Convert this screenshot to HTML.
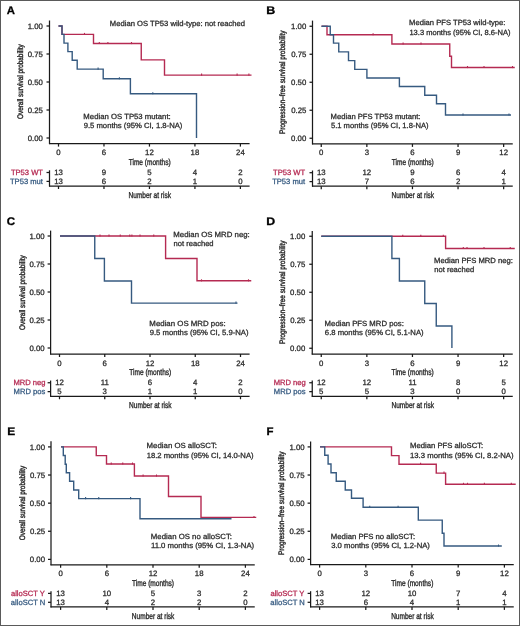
<!DOCTYPE html>
<html><head><meta charset="utf-8"><style>
html,body{margin:0;padding:0;background:#fff;}
body{width:520px;height:626px;overflow:hidden;position:relative;}
svg{position:absolute;left:0;top:0;font-family:"Liberation Sans", sans-serif;will-change:transform;text-rendering:geometricPrecision;}
text{stroke:currentColor;}
.frame{position:absolute;left:0;top:0;width:518px;height:624px;border:1px solid #5a5a5a;}
</style></head><body>
<svg width="520" height="626" viewBox="0 0 520 626">
<rect width="520" height="626" fill="#fff"/>
<text x="6.82" y="14.20" font-size="11" fill="#000" color="#000" stroke-width="0.28" font-weight="bold" textLength="8.19" lengthAdjust="spacingAndGlyphs">A</text>
<line x1="49.50" y1="20.50" x2="49.50" y2="144.10" stroke="#1a1a1a" stroke-width="1.25"/>
<line x1="46.50" y1="26.00" x2="49.50" y2="26.00" stroke="#1a1a1a" stroke-width="1.25"/>
<text x="42.88" y="28.60" font-size="7.8" fill="#2c2c2c" color="#2c2c2c" stroke-width="0.28" text-anchor="end">1.00</text>
<line x1="46.50" y1="54.00" x2="49.50" y2="54.00" stroke="#1a1a1a" stroke-width="1.25"/>
<text x="42.92" y="56.60" font-size="7.8" fill="#2c2c2c" color="#2c2c2c" stroke-width="0.28" text-anchor="end">0.75</text>
<line x1="46.50" y1="82.00" x2="49.50" y2="82.00" stroke="#1a1a1a" stroke-width="1.25"/>
<text x="42.88" y="84.60" font-size="7.8" fill="#2c2c2c" color="#2c2c2c" stroke-width="0.28" text-anchor="end">0.50</text>
<line x1="46.50" y1="110.00" x2="49.50" y2="110.00" stroke="#1a1a1a" stroke-width="1.25"/>
<text x="42.92" y="112.60" font-size="7.8" fill="#2c2c2c" color="#2c2c2c" stroke-width="0.28" text-anchor="end">0.25</text>
<line x1="46.50" y1="138.00" x2="49.50" y2="138.00" stroke="#1a1a1a" stroke-width="1.25"/>
<text x="42.88" y="140.60" font-size="7.8" fill="#2c2c2c" color="#2c2c2c" stroke-width="0.28" text-anchor="end">0.00</text>
<line x1="49.00" y1="143.60" x2="249.60" y2="143.60" stroke="#1a1a1a" stroke-width="1.25"/>
<line x1="58.50" y1="143.60" x2="58.50" y2="146.60" stroke="#1a1a1a" stroke-width="1.25"/>
<text x="58.50" y="155.10" font-size="7.8" fill="#2c2c2c" color="#2c2c2c" stroke-width="0.28" text-anchor="middle">0</text>
<line x1="103.97" y1="143.60" x2="103.97" y2="146.60" stroke="#1a1a1a" stroke-width="1.25"/>
<text x="103.97" y="155.10" font-size="7.8" fill="#2c2c2c" color="#2c2c2c" stroke-width="0.28" text-anchor="middle">6</text>
<line x1="149.45" y1="143.60" x2="149.45" y2="146.60" stroke="#1a1a1a" stroke-width="1.25"/>
<text x="149.45" y="155.10" font-size="7.8" fill="#2c2c2c" color="#2c2c2c" stroke-width="0.28" text-anchor="middle">12</text>
<line x1="194.93" y1="143.60" x2="194.93" y2="146.60" stroke="#1a1a1a" stroke-width="1.25"/>
<text x="194.93" y="155.10" font-size="7.8" fill="#2c2c2c" color="#2c2c2c" stroke-width="0.28" text-anchor="middle">18</text>
<line x1="240.40" y1="143.60" x2="240.40" y2="146.60" stroke="#1a1a1a" stroke-width="1.25"/>
<text x="240.40" y="155.10" font-size="7.8" fill="#2c2c2c" color="#2c2c2c" stroke-width="0.28" text-anchor="middle">24</text>
<text x="128.67" y="164.70" font-size="8.6" fill="#2c2c2c" color="#2c2c2c" stroke-width="0.36" textLength="42.05" lengthAdjust="spacingAndGlyphs">Time (months)</text>
<text transform="rotate(-90)" x="-118.99" y="22.90" font-size="8.0" fill="#2c2c2c" color="#2c2c2c" stroke-width="0.4" textLength="74.60" lengthAdjust="spacingAndGlyphs">Overall survival probability</text>
<line x1="49.50" y1="170.30" x2="49.50" y2="186.50" stroke="#1a1a1a" stroke-width="1.25"/>
<line x1="49.00" y1="186.00" x2="249.60" y2="186.00" stroke="#1a1a1a" stroke-width="1.25"/>
<line x1="46.50" y1="172.50" x2="49.50" y2="172.50" stroke="#1a1a1a" stroke-width="1.25"/>
<text x="42.97" y="174.80" font-size="7.6" fill="#b52a52" color="#b52a52" stroke-width="0.28" text-anchor="end">TP53 WT</text>
<text x="58.50" y="174.80" font-size="7.8" fill="#2c2c2c" color="#2c2c2c" stroke-width="0.28" text-anchor="middle">13</text>
<text x="103.97" y="174.80" font-size="7.8" fill="#2c2c2c" color="#2c2c2c" stroke-width="0.28" text-anchor="middle">9</text>
<text x="149.45" y="174.80" font-size="7.8" fill="#2c2c2c" color="#2c2c2c" stroke-width="0.28" text-anchor="middle">5</text>
<text x="194.93" y="174.80" font-size="7.8" fill="#2c2c2c" color="#2c2c2c" stroke-width="0.28" text-anchor="middle">4</text>
<text x="240.40" y="174.80" font-size="7.8" fill="#2c2c2c" color="#2c2c2c" stroke-width="0.28" text-anchor="middle">2</text>
<line x1="46.50" y1="181.40" x2="49.50" y2="181.40" stroke="#1a1a1a" stroke-width="1.25"/>
<text x="42.88" y="183.70" font-size="7.6" fill="#365a80" color="#365a80" stroke-width="0.28" text-anchor="end">TP53 mut</text>
<text x="58.50" y="183.70" font-size="7.8" fill="#2c2c2c" color="#2c2c2c" stroke-width="0.28" text-anchor="middle">13</text>
<text x="103.97" y="183.70" font-size="7.8" fill="#2c2c2c" color="#2c2c2c" stroke-width="0.28" text-anchor="middle">6</text>
<text x="149.45" y="183.70" font-size="7.8" fill="#2c2c2c" color="#2c2c2c" stroke-width="0.28" text-anchor="middle">2</text>
<text x="194.93" y="183.70" font-size="7.8" fill="#2c2c2c" color="#2c2c2c" stroke-width="0.28" text-anchor="middle">1</text>
<text x="240.40" y="183.70" font-size="7.8" fill="#2c2c2c" color="#2c2c2c" stroke-width="0.28" text-anchor="middle">0</text>
<line x1="58.50" y1="186.00" x2="58.50" y2="189.00" stroke="#1a1a1a" stroke-width="1.25"/>
<line x1="103.97" y1="186.00" x2="103.97" y2="189.00" stroke="#1a1a1a" stroke-width="1.25"/>
<line x1="149.45" y1="186.00" x2="149.45" y2="189.00" stroke="#1a1a1a" stroke-width="1.25"/>
<line x1="194.93" y1="186.00" x2="194.93" y2="189.00" stroke="#1a1a1a" stroke-width="1.25"/>
<line x1="240.40" y1="186.00" x2="240.40" y2="189.00" stroke="#1a1a1a" stroke-width="1.25"/>
<text x="128.53" y="197.80" font-size="8.6" fill="#2c2c2c" color="#2c2c2c" stroke-width="0.36" textLength="42.53" lengthAdjust="spacingAndGlyphs">Number at risk</text>
<text x="109.89" y="25.60" font-size="7.5" fill="#2c2c2c" color="#2c2c2c" stroke-width="0.28" textLength="135.20" lengthAdjust="spacingAndGlyphs">Median OS TP53 wild-type: not reached</text>
<text x="83.38" y="118.80" font-size="7.5" fill="#2c2c2c" color="#2c2c2c" stroke-width="0.28" textLength="87.32" lengthAdjust="spacingAndGlyphs">Median OS TP53 mutant:</text>
<text x="83.65" y="128.20" font-size="7.5" fill="#2c2c2c" color="#2c2c2c" stroke-width="0.28" textLength="98.74" lengthAdjust="spacingAndGlyphs">9.5 months (95% CI, 1.8-NA)</text>
<path d="M58.50,26.00 H62.00 V34.40 H93.50 V43.50 H141.25 V59.90 H164.50 V75.10 H251.50" fill="none" stroke="#b52a52" stroke-width="1.4" stroke-linejoin="miter" stroke-linecap="butt"/>
<path d="M58.50,26.00 H62.00 V34.40 H64.00 V43.10 H67.90 V51.60 H72.20 V60.30 H77.20 V69.10 H103.20 V78.70 H130.40 V93.70 H196.50 V138.00" fill="none" stroke="#365a80" stroke-width="1.4" stroke-linejoin="miter" stroke-linecap="butt"/>
<line x1="84.50" y1="32.90" x2="84.50" y2="35.00" stroke="#b52a52" stroke-width="1.1"/>
<line x1="99.30" y1="42.00" x2="99.30" y2="44.10" stroke="#b52a52" stroke-width="1.1"/>
<line x1="107.90" y1="42.00" x2="107.90" y2="44.10" stroke="#b52a52" stroke-width="1.1"/>
<line x1="131.50" y1="42.00" x2="131.50" y2="44.10" stroke="#b52a52" stroke-width="1.1"/>
<line x1="201.60" y1="73.60" x2="201.60" y2="75.70" stroke="#b52a52" stroke-width="1.1"/>
<line x1="237.10" y1="73.60" x2="237.10" y2="75.70" stroke="#b52a52" stroke-width="1.1"/>
<line x1="248.90" y1="73.60" x2="248.90" y2="75.70" stroke="#b52a52" stroke-width="1.1"/>
<line x1="98.10" y1="67.60" x2="98.10" y2="69.70" stroke="#365a80" stroke-width="1.1"/>
<line x1="119.40" y1="77.20" x2="119.40" y2="79.30" stroke="#365a80" stroke-width="1.1"/>
<line x1="152.80" y1="92.20" x2="152.80" y2="94.30" stroke="#365a80" stroke-width="1.1"/>
<text x="266.19" y="14.20" font-size="11" fill="#000" color="#000" stroke-width="0.28" font-weight="bold" textLength="9.00" lengthAdjust="spacingAndGlyphs">B</text>
<line x1="312.50" y1="20.60" x2="312.50" y2="144.40" stroke="#1a1a1a" stroke-width="1.25"/>
<line x1="309.50" y1="26.25" x2="312.50" y2="26.25" stroke="#1a1a1a" stroke-width="1.25"/>
<text x="306.28" y="28.85" font-size="7.8" fill="#2c2c2c" color="#2c2c2c" stroke-width="0.28" text-anchor="end">1.00</text>
<line x1="309.50" y1="54.25" x2="312.50" y2="54.25" stroke="#1a1a1a" stroke-width="1.25"/>
<text x="306.32" y="56.85" font-size="7.8" fill="#2c2c2c" color="#2c2c2c" stroke-width="0.28" text-anchor="end">0.75</text>
<line x1="309.50" y1="82.25" x2="312.50" y2="82.25" stroke="#1a1a1a" stroke-width="1.25"/>
<text x="306.28" y="84.85" font-size="7.8" fill="#2c2c2c" color="#2c2c2c" stroke-width="0.28" text-anchor="end">0.50</text>
<line x1="309.50" y1="110.25" x2="312.50" y2="110.25" stroke="#1a1a1a" stroke-width="1.25"/>
<text x="306.32" y="112.85" font-size="7.8" fill="#2c2c2c" color="#2c2c2c" stroke-width="0.28" text-anchor="end">0.25</text>
<line x1="309.50" y1="138.25" x2="312.50" y2="138.25" stroke="#1a1a1a" stroke-width="1.25"/>
<text x="306.28" y="140.85" font-size="7.8" fill="#2c2c2c" color="#2c2c2c" stroke-width="0.28" text-anchor="end">0.00</text>
<line x1="312.00" y1="143.90" x2="512.75" y2="143.90" stroke="#1a1a1a" stroke-width="1.25"/>
<line x1="321.25" y1="143.90" x2="321.25" y2="146.90" stroke="#1a1a1a" stroke-width="1.25"/>
<text x="321.25" y="155.40" font-size="7.8" fill="#2c2c2c" color="#2c2c2c" stroke-width="0.28" text-anchor="middle">0</text>
<line x1="366.85" y1="143.90" x2="366.85" y2="146.90" stroke="#1a1a1a" stroke-width="1.25"/>
<text x="366.85" y="155.40" font-size="7.8" fill="#2c2c2c" color="#2c2c2c" stroke-width="0.28" text-anchor="middle">3</text>
<line x1="412.45" y1="143.90" x2="412.45" y2="146.90" stroke="#1a1a1a" stroke-width="1.25"/>
<text x="412.45" y="155.40" font-size="7.8" fill="#2c2c2c" color="#2c2c2c" stroke-width="0.28" text-anchor="middle">6</text>
<line x1="458.05" y1="143.90" x2="458.05" y2="146.90" stroke="#1a1a1a" stroke-width="1.25"/>
<text x="458.05" y="155.40" font-size="7.8" fill="#2c2c2c" color="#2c2c2c" stroke-width="0.28" text-anchor="middle">9</text>
<line x1="503.65" y1="143.90" x2="503.65" y2="146.90" stroke="#1a1a1a" stroke-width="1.25"/>
<text x="503.65" y="155.40" font-size="7.8" fill="#2c2c2c" color="#2c2c2c" stroke-width="0.28" text-anchor="middle">12</text>
<text x="391.74" y="165.00" font-size="8.6" fill="#2c2c2c" color="#2c2c2c" stroke-width="0.36" textLength="42.05" lengthAdjust="spacingAndGlyphs">Time (months)</text>
<text transform="rotate(-90)" x="-134.01" y="285.00" font-size="8.0" fill="#2c2c2c" color="#2c2c2c" stroke-width="0.4" textLength="103.41" lengthAdjust="spacingAndGlyphs">Progression–free survival probability</text>
<line x1="312.50" y1="170.50" x2="312.50" y2="186.70" stroke="#1a1a1a" stroke-width="1.25"/>
<line x1="312.00" y1="186.20" x2="512.75" y2="186.20" stroke="#1a1a1a" stroke-width="1.25"/>
<line x1="309.50" y1="172.70" x2="312.50" y2="172.70" stroke="#1a1a1a" stroke-width="1.25"/>
<text x="305.17" y="175.00" font-size="7.6" fill="#b52a52" color="#b52a52" stroke-width="0.28" text-anchor="end">TP53 WT</text>
<text x="321.25" y="175.00" font-size="7.8" fill="#2c2c2c" color="#2c2c2c" stroke-width="0.28" text-anchor="middle">13</text>
<text x="366.85" y="175.00" font-size="7.8" fill="#2c2c2c" color="#2c2c2c" stroke-width="0.28" text-anchor="middle">12</text>
<text x="412.45" y="175.00" font-size="7.8" fill="#2c2c2c" color="#2c2c2c" stroke-width="0.28" text-anchor="middle">9</text>
<text x="458.05" y="175.00" font-size="7.8" fill="#2c2c2c" color="#2c2c2c" stroke-width="0.28" text-anchor="middle">6</text>
<text x="503.65" y="175.00" font-size="7.8" fill="#2c2c2c" color="#2c2c2c" stroke-width="0.28" text-anchor="middle">4</text>
<line x1="309.50" y1="181.60" x2="312.50" y2="181.60" stroke="#1a1a1a" stroke-width="1.25"/>
<text x="305.08" y="183.90" font-size="7.6" fill="#365a80" color="#365a80" stroke-width="0.28" text-anchor="end">TP53 mut</text>
<text x="321.25" y="183.90" font-size="7.8" fill="#2c2c2c" color="#2c2c2c" stroke-width="0.28" text-anchor="middle">13</text>
<text x="366.85" y="183.90" font-size="7.8" fill="#2c2c2c" color="#2c2c2c" stroke-width="0.28" text-anchor="middle">7</text>
<text x="412.45" y="183.90" font-size="7.8" fill="#2c2c2c" color="#2c2c2c" stroke-width="0.28" text-anchor="middle">6</text>
<text x="458.05" y="183.90" font-size="7.8" fill="#2c2c2c" color="#2c2c2c" stroke-width="0.28" text-anchor="middle">2</text>
<text x="503.65" y="183.90" font-size="7.8" fill="#2c2c2c" color="#2c2c2c" stroke-width="0.28" text-anchor="middle">1</text>
<line x1="321.25" y1="186.20" x2="321.25" y2="189.20" stroke="#1a1a1a" stroke-width="1.25"/>
<line x1="366.85" y1="186.20" x2="366.85" y2="189.20" stroke="#1a1a1a" stroke-width="1.25"/>
<line x1="412.45" y1="186.20" x2="412.45" y2="189.20" stroke="#1a1a1a" stroke-width="1.25"/>
<line x1="458.05" y1="186.20" x2="458.05" y2="189.20" stroke="#1a1a1a" stroke-width="1.25"/>
<line x1="503.65" y1="186.20" x2="503.65" y2="189.20" stroke="#1a1a1a" stroke-width="1.25"/>
<text x="391.60" y="198.00" font-size="8.6" fill="#2c2c2c" color="#2c2c2c" stroke-width="0.36" textLength="42.53" lengthAdjust="spacingAndGlyphs">Number at risk</text>
<text x="409.14" y="25.30" font-size="7.5" fill="#2c2c2c" color="#2c2c2c" stroke-width="0.28" textLength="96.33" lengthAdjust="spacingAndGlyphs">Median PFS TP53 wild-type:</text>
<text x="409.43" y="35.10" font-size="7.5" fill="#2c2c2c" color="#2c2c2c" stroke-width="0.28" textLength="101.05" lengthAdjust="spacingAndGlyphs">13.3 months (95% CI, 8.6-NA)</text>
<text x="330.64" y="118.80" font-size="7.5" fill="#2c2c2c" color="#2c2c2c" stroke-width="0.28" textLength="89.80" lengthAdjust="spacingAndGlyphs">Median PFS TP53 mutant:</text>
<text x="330.95" y="128.20" font-size="7.5" fill="#2c2c2c" color="#2c2c2c" stroke-width="0.28" textLength="97.64" lengthAdjust="spacingAndGlyphs">5.1 months (95% CI, 1.8-NA)</text>
<path d="M321.50,26.25 H327.00 V34.75 H391.90 V44.00 H449.75 V56.25 H451.50 V67.50 H514.75" fill="none" stroke="#b52a52" stroke-width="1.4" stroke-linejoin="miter" stroke-linecap="butt"/>
<path d="M321.50,26.25 H330.25 V34.75 H333.50 V43.10 H338.75 V51.90 H348.50 V60.60 H354.75 V69.40 H366.90 V78.00 H399.40 V86.50 H424.75 V95.25 H436.50 V103.75 H445.50 V115.00 H511.00" fill="none" stroke="#365a80" stroke-width="1.4" stroke-linejoin="miter" stroke-linecap="butt"/>
<line x1="373.10" y1="33.25" x2="373.10" y2="35.35" stroke="#b52a52" stroke-width="1.1"/>
<line x1="403.10" y1="42.50" x2="403.10" y2="44.60" stroke="#b52a52" stroke-width="1.1"/>
<line x1="421.00" y1="42.50" x2="421.00" y2="44.60" stroke="#b52a52" stroke-width="1.1"/>
<line x1="467.50" y1="66.00" x2="467.50" y2="68.10" stroke="#b52a52" stroke-width="1.1"/>
<line x1="484.00" y1="66.00" x2="484.00" y2="68.10" stroke="#b52a52" stroke-width="1.1"/>
<line x1="512.50" y1="66.00" x2="512.50" y2="68.10" stroke="#b52a52" stroke-width="1.1"/>
<line x1="463.00" y1="113.50" x2="463.00" y2="115.60" stroke="#365a80" stroke-width="1.1"/>
<line x1="509.00" y1="113.50" x2="509.00" y2="115.60" stroke="#365a80" stroke-width="1.1"/>
<text x="6.79" y="224.60" font-size="11" fill="#000" color="#000" stroke-width="0.28" font-weight="bold" textLength="8.38" lengthAdjust="spacingAndGlyphs">C</text>
<line x1="50.60" y1="230.60" x2="50.60" y2="354.50" stroke="#1a1a1a" stroke-width="1.25"/>
<line x1="47.60" y1="236.00" x2="50.60" y2="236.00" stroke="#1a1a1a" stroke-width="1.25"/>
<text x="44.68" y="238.60" font-size="7.8" fill="#2c2c2c" color="#2c2c2c" stroke-width="0.28" text-anchor="end">1.00</text>
<line x1="47.60" y1="264.00" x2="50.60" y2="264.00" stroke="#1a1a1a" stroke-width="1.25"/>
<text x="44.72" y="266.60" font-size="7.8" fill="#2c2c2c" color="#2c2c2c" stroke-width="0.28" text-anchor="end">0.75</text>
<line x1="47.60" y1="292.00" x2="50.60" y2="292.00" stroke="#1a1a1a" stroke-width="1.25"/>
<text x="44.68" y="294.60" font-size="7.8" fill="#2c2c2c" color="#2c2c2c" stroke-width="0.28" text-anchor="end">0.50</text>
<line x1="47.60" y1="320.00" x2="50.60" y2="320.00" stroke="#1a1a1a" stroke-width="1.25"/>
<text x="44.72" y="322.60" font-size="7.8" fill="#2c2c2c" color="#2c2c2c" stroke-width="0.28" text-anchor="end">0.25</text>
<line x1="47.60" y1="348.00" x2="50.60" y2="348.00" stroke="#1a1a1a" stroke-width="1.25"/>
<text x="44.68" y="350.60" font-size="7.8" fill="#2c2c2c" color="#2c2c2c" stroke-width="0.28" text-anchor="end">0.00</text>
<line x1="50.10" y1="354.00" x2="249.60" y2="354.00" stroke="#1a1a1a" stroke-width="1.25"/>
<line x1="59.50" y1="354.00" x2="59.50" y2="357.00" stroke="#1a1a1a" stroke-width="1.25"/>
<text x="59.50" y="365.50" font-size="7.8" fill="#2c2c2c" color="#2c2c2c" stroke-width="0.28" text-anchor="middle">0</text>
<line x1="104.75" y1="354.00" x2="104.75" y2="357.00" stroke="#1a1a1a" stroke-width="1.25"/>
<text x="104.75" y="365.50" font-size="7.8" fill="#2c2c2c" color="#2c2c2c" stroke-width="0.28" text-anchor="middle">6</text>
<line x1="150.00" y1="354.00" x2="150.00" y2="357.00" stroke="#1a1a1a" stroke-width="1.25"/>
<text x="150.00" y="365.50" font-size="7.8" fill="#2c2c2c" color="#2c2c2c" stroke-width="0.28" text-anchor="middle">12</text>
<line x1="195.25" y1="354.00" x2="195.25" y2="357.00" stroke="#1a1a1a" stroke-width="1.25"/>
<text x="195.25" y="365.50" font-size="7.8" fill="#2c2c2c" color="#2c2c2c" stroke-width="0.28" text-anchor="middle">18</text>
<line x1="240.50" y1="354.00" x2="240.50" y2="357.00" stroke="#1a1a1a" stroke-width="1.25"/>
<text x="240.50" y="365.50" font-size="7.8" fill="#2c2c2c" color="#2c2c2c" stroke-width="0.28" text-anchor="middle">24</text>
<text x="129.22" y="375.10" font-size="8.6" fill="#2c2c2c" color="#2c2c2c" stroke-width="0.36" textLength="42.05" lengthAdjust="spacingAndGlyphs">Time (months)</text>
<text transform="rotate(-90)" x="-330.04" y="24.80" font-size="8.0" fill="#2c2c2c" color="#2c2c2c" stroke-width="0.4" textLength="74.65" lengthAdjust="spacingAndGlyphs">Overall survival probability</text>
<line x1="50.60" y1="380.55" x2="50.60" y2="396.75" stroke="#1a1a1a" stroke-width="1.25"/>
<line x1="50.10" y1="396.25" x2="249.60" y2="396.25" stroke="#1a1a1a" stroke-width="1.25"/>
<line x1="47.60" y1="382.75" x2="50.60" y2="382.75" stroke="#1a1a1a" stroke-width="1.25"/>
<text x="45.48" y="385.05" font-size="7.6" fill="#b52a52" color="#b52a52" stroke-width="0.28" text-anchor="end">MRD neg</text>
<text x="59.50" y="385.05" font-size="7.8" fill="#2c2c2c" color="#2c2c2c" stroke-width="0.28" text-anchor="middle">12</text>
<text x="104.75" y="385.05" font-size="7.8" fill="#2c2c2c" color="#2c2c2c" stroke-width="0.28" text-anchor="middle">11</text>
<text x="150.00" y="385.05" font-size="7.8" fill="#2c2c2c" color="#2c2c2c" stroke-width="0.28" text-anchor="middle">6</text>
<text x="195.25" y="385.05" font-size="7.8" fill="#2c2c2c" color="#2c2c2c" stroke-width="0.28" text-anchor="middle">4</text>
<text x="240.50" y="385.05" font-size="7.8" fill="#2c2c2c" color="#2c2c2c" stroke-width="0.28" text-anchor="middle">2</text>
<line x1="47.60" y1="391.65" x2="50.60" y2="391.65" stroke="#1a1a1a" stroke-width="1.25"/>
<text x="45.25" y="393.95" font-size="7.6" fill="#365a80" color="#365a80" stroke-width="0.28" text-anchor="end">MRD pos</text>
<text x="59.50" y="393.95" font-size="7.8" fill="#2c2c2c" color="#2c2c2c" stroke-width="0.28" text-anchor="middle">5</text>
<text x="104.75" y="393.95" font-size="7.8" fill="#2c2c2c" color="#2c2c2c" stroke-width="0.28" text-anchor="middle">3</text>
<text x="150.00" y="393.95" font-size="7.8" fill="#2c2c2c" color="#2c2c2c" stroke-width="0.28" text-anchor="middle">1</text>
<text x="195.25" y="393.95" font-size="7.8" fill="#2c2c2c" color="#2c2c2c" stroke-width="0.28" text-anchor="middle">1</text>
<text x="240.50" y="393.95" font-size="7.8" fill="#2c2c2c" color="#2c2c2c" stroke-width="0.28" text-anchor="middle">0</text>
<line x1="59.50" y1="396.25" x2="59.50" y2="399.25" stroke="#1a1a1a" stroke-width="1.25"/>
<line x1="104.75" y1="396.25" x2="104.75" y2="399.25" stroke="#1a1a1a" stroke-width="1.25"/>
<line x1="150.00" y1="396.25" x2="150.00" y2="399.25" stroke="#1a1a1a" stroke-width="1.25"/>
<line x1="195.25" y1="396.25" x2="195.25" y2="399.25" stroke="#1a1a1a" stroke-width="1.25"/>
<line x1="240.50" y1="396.25" x2="240.50" y2="399.25" stroke="#1a1a1a" stroke-width="1.25"/>
<text x="129.08" y="408.05" font-size="8.6" fill="#2c2c2c" color="#2c2c2c" stroke-width="0.36" textLength="42.53" lengthAdjust="spacingAndGlyphs">Number at risk</text>
<text x="173.37" y="237.20" font-size="7.5" fill="#2c2c2c" color="#2c2c2c" stroke-width="0.28" textLength="76.44" lengthAdjust="spacingAndGlyphs">Median OS MRD neg:</text>
<text x="173.51" y="245.90" font-size="7.5" fill="#2c2c2c" color="#2c2c2c" stroke-width="0.28" textLength="40.10" lengthAdjust="spacingAndGlyphs">not reached</text>
<text x="149.37" y="326.30" font-size="7.5" fill="#2c2c2c" color="#2c2c2c" stroke-width="0.28" textLength="76.34" lengthAdjust="spacingAndGlyphs">Median OS MRD pos:</text>
<text x="149.65" y="335.30" font-size="7.5" fill="#2c2c2c" color="#2c2c2c" stroke-width="0.28" textLength="98.94" lengthAdjust="spacingAndGlyphs">9.5 months (95% CI, 5.9-NA)</text>
<path d="M60.00,236.00 H165.60 V258.50 H197.00 V280.80 H251.25" fill="none" stroke="#b52a52" stroke-width="1.4" stroke-linejoin="miter" stroke-linecap="butt"/>
<path d="M60.00,236.00 H94.75 V258.50 H104.40 V281.00 H131.50 V303.10 H237.50" fill="none" stroke="#365a80" stroke-width="1.4" stroke-linejoin="miter" stroke-linecap="butt"/>
<line x1="100.00" y1="234.50" x2="100.00" y2="236.60" stroke="#b52a52" stroke-width="1.1"/>
<line x1="109.00" y1="234.50" x2="109.00" y2="236.60" stroke="#b52a52" stroke-width="1.1"/>
<line x1="120.25" y1="234.50" x2="120.25" y2="236.60" stroke="#b52a52" stroke-width="1.1"/>
<line x1="129.75" y1="234.50" x2="129.75" y2="236.60" stroke="#b52a52" stroke-width="1.1"/>
<line x1="131.90" y1="234.50" x2="131.90" y2="236.60" stroke="#b52a52" stroke-width="1.1"/>
<line x1="140.00" y1="234.50" x2="140.00" y2="236.60" stroke="#b52a52" stroke-width="1.1"/>
<line x1="153.75" y1="234.50" x2="153.75" y2="236.60" stroke="#b52a52" stroke-width="1.1"/>
<line x1="201.50" y1="279.30" x2="201.50" y2="281.40" stroke="#b52a52" stroke-width="1.1"/>
<line x1="248.50" y1="279.30" x2="248.50" y2="281.40" stroke="#b52a52" stroke-width="1.1"/>
<line x1="236.00" y1="301.60" x2="236.00" y2="303.70" stroke="#365a80" stroke-width="1.1"/>
<text x="266.20" y="224.60" font-size="11" fill="#000" color="#000" stroke-width="0.28" font-weight="bold" textLength="8.92" lengthAdjust="spacingAndGlyphs">D</text>
<line x1="312.25" y1="231.00" x2="312.25" y2="354.50" stroke="#1a1a1a" stroke-width="1.25"/>
<line x1="309.25" y1="236.25" x2="312.25" y2="236.25" stroke="#1a1a1a" stroke-width="1.25"/>
<text x="305.28" y="238.85" font-size="7.8" fill="#2c2c2c" color="#2c2c2c" stroke-width="0.28" text-anchor="end">1.00</text>
<line x1="309.25" y1="264.25" x2="312.25" y2="264.25" stroke="#1a1a1a" stroke-width="1.25"/>
<text x="305.32" y="266.85" font-size="7.8" fill="#2c2c2c" color="#2c2c2c" stroke-width="0.28" text-anchor="end">0.75</text>
<line x1="309.25" y1="292.25" x2="312.25" y2="292.25" stroke="#1a1a1a" stroke-width="1.25"/>
<text x="305.28" y="294.85" font-size="7.8" fill="#2c2c2c" color="#2c2c2c" stroke-width="0.28" text-anchor="end">0.50</text>
<line x1="309.25" y1="320.25" x2="312.25" y2="320.25" stroke="#1a1a1a" stroke-width="1.25"/>
<text x="305.32" y="322.85" font-size="7.8" fill="#2c2c2c" color="#2c2c2c" stroke-width="0.28" text-anchor="end">0.25</text>
<line x1="309.25" y1="348.25" x2="312.25" y2="348.25" stroke="#1a1a1a" stroke-width="1.25"/>
<text x="305.28" y="350.85" font-size="7.8" fill="#2c2c2c" color="#2c2c2c" stroke-width="0.28" text-anchor="end">0.00</text>
<line x1="311.75" y1="354.00" x2="512.75" y2="354.00" stroke="#1a1a1a" stroke-width="1.25"/>
<line x1="321.25" y1="354.00" x2="321.25" y2="357.00" stroke="#1a1a1a" stroke-width="1.25"/>
<text x="321.25" y="365.50" font-size="7.8" fill="#2c2c2c" color="#2c2c2c" stroke-width="0.28" text-anchor="middle">0</text>
<line x1="366.85" y1="354.00" x2="366.85" y2="357.00" stroke="#1a1a1a" stroke-width="1.25"/>
<text x="366.85" y="365.50" font-size="7.8" fill="#2c2c2c" color="#2c2c2c" stroke-width="0.28" text-anchor="middle">3</text>
<line x1="412.45" y1="354.00" x2="412.45" y2="357.00" stroke="#1a1a1a" stroke-width="1.25"/>
<text x="412.45" y="365.50" font-size="7.8" fill="#2c2c2c" color="#2c2c2c" stroke-width="0.28" text-anchor="middle">6</text>
<line x1="458.05" y1="354.00" x2="458.05" y2="357.00" stroke="#1a1a1a" stroke-width="1.25"/>
<text x="458.05" y="365.50" font-size="7.8" fill="#2c2c2c" color="#2c2c2c" stroke-width="0.28" text-anchor="middle">9</text>
<line x1="503.65" y1="354.00" x2="503.65" y2="357.00" stroke="#1a1a1a" stroke-width="1.25"/>
<text x="503.65" y="365.50" font-size="7.8" fill="#2c2c2c" color="#2c2c2c" stroke-width="0.28" text-anchor="middle">12</text>
<text x="391.62" y="375.10" font-size="8.6" fill="#2c2c2c" color="#2c2c2c" stroke-width="0.36" textLength="42.05" lengthAdjust="spacingAndGlyphs">Time (months)</text>
<text transform="rotate(-90)" x="-344.01" y="285.00" font-size="8.0" fill="#2c2c2c" color="#2c2c2c" stroke-width="0.4" textLength="103.41" lengthAdjust="spacingAndGlyphs">Progression–free survival probability</text>
<line x1="312.25" y1="380.55" x2="312.25" y2="396.75" stroke="#1a1a1a" stroke-width="1.25"/>
<line x1="311.75" y1="396.25" x2="512.75" y2="396.25" stroke="#1a1a1a" stroke-width="1.25"/>
<line x1="309.25" y1="382.75" x2="312.25" y2="382.75" stroke="#1a1a1a" stroke-width="1.25"/>
<text x="305.73" y="385.05" font-size="7.6" fill="#b52a52" color="#b52a52" stroke-width="0.28" text-anchor="end">MRD neg</text>
<text x="321.25" y="385.05" font-size="7.8" fill="#2c2c2c" color="#2c2c2c" stroke-width="0.28" text-anchor="middle">12</text>
<text x="366.85" y="385.05" font-size="7.8" fill="#2c2c2c" color="#2c2c2c" stroke-width="0.28" text-anchor="middle">12</text>
<text x="412.45" y="385.05" font-size="7.8" fill="#2c2c2c" color="#2c2c2c" stroke-width="0.28" text-anchor="middle">11</text>
<text x="458.05" y="385.05" font-size="7.8" fill="#2c2c2c" color="#2c2c2c" stroke-width="0.28" text-anchor="middle">8</text>
<text x="503.65" y="385.05" font-size="7.8" fill="#2c2c2c" color="#2c2c2c" stroke-width="0.28" text-anchor="middle">5</text>
<line x1="309.25" y1="391.65" x2="312.25" y2="391.65" stroke="#1a1a1a" stroke-width="1.25"/>
<text x="305.50" y="393.95" font-size="7.6" fill="#365a80" color="#365a80" stroke-width="0.28" text-anchor="end">MRD pos</text>
<text x="321.25" y="393.95" font-size="7.8" fill="#2c2c2c" color="#2c2c2c" stroke-width="0.28" text-anchor="middle">5</text>
<text x="366.85" y="393.95" font-size="7.8" fill="#2c2c2c" color="#2c2c2c" stroke-width="0.28" text-anchor="middle">5</text>
<text x="412.45" y="393.95" font-size="7.8" fill="#2c2c2c" color="#2c2c2c" stroke-width="0.28" text-anchor="middle">3</text>
<text x="458.05" y="393.95" font-size="7.8" fill="#2c2c2c" color="#2c2c2c" stroke-width="0.28" text-anchor="middle">0</text>
<text x="503.65" y="393.95" font-size="7.8" fill="#2c2c2c" color="#2c2c2c" stroke-width="0.28" text-anchor="middle">0</text>
<line x1="321.25" y1="396.25" x2="321.25" y2="399.25" stroke="#1a1a1a" stroke-width="1.25"/>
<line x1="366.85" y1="396.25" x2="366.85" y2="399.25" stroke="#1a1a1a" stroke-width="1.25"/>
<line x1="412.45" y1="396.25" x2="412.45" y2="399.25" stroke="#1a1a1a" stroke-width="1.25"/>
<line x1="458.05" y1="396.25" x2="458.05" y2="399.25" stroke="#1a1a1a" stroke-width="1.25"/>
<line x1="503.65" y1="396.25" x2="503.65" y2="399.25" stroke="#1a1a1a" stroke-width="1.25"/>
<text x="391.48" y="408.05" font-size="8.6" fill="#2c2c2c" color="#2c2c2c" stroke-width="0.36" textLength="42.53" lengthAdjust="spacingAndGlyphs">Number at risk</text>
<text x="434.14" y="262.80" font-size="7.5" fill="#2c2c2c" color="#2c2c2c" stroke-width="0.28" textLength="78.82" lengthAdjust="spacingAndGlyphs">Median PFS MRD neg:</text>
<text x="434.26" y="271.55" font-size="7.5" fill="#2c2c2c" color="#2c2c2c" stroke-width="0.28" textLength="40.00" lengthAdjust="spacingAndGlyphs">not reached</text>
<text x="324.63" y="325.90" font-size="7.5" fill="#2c2c2c" color="#2c2c2c" stroke-width="0.28" textLength="79.17" lengthAdjust="spacingAndGlyphs">Median PFS MRD pos:</text>
<text x="324.87" y="335.30" font-size="7.5" fill="#2c2c2c" color="#2c2c2c" stroke-width="0.28" textLength="98.72" lengthAdjust="spacingAndGlyphs">6.8 months (95% CI, 5.1-NA)</text>
<path d="M321.25,236.25 H445.60 V248.50 H514.75" fill="none" stroke="#b52a52" stroke-width="1.4" stroke-linejoin="miter" stroke-linecap="butt"/>
<path d="M321.25,236.25 H391.90 V258.50 H399.40 V281.00 H424.75 V303.50 H436.25 V326.00 H451.90 V348.10" fill="none" stroke="#365a80" stroke-width="1.4" stroke-linejoin="miter" stroke-linecap="butt"/>
<line x1="402.75" y1="234.75" x2="402.75" y2="236.85" stroke="#b52a52" stroke-width="1.1"/>
<line x1="420.80" y1="234.75" x2="420.80" y2="236.85" stroke="#b52a52" stroke-width="1.1"/>
<line x1="443.30" y1="234.75" x2="443.30" y2="236.85" stroke="#b52a52" stroke-width="1.1"/>
<line x1="463.30" y1="247.00" x2="463.30" y2="249.10" stroke="#b52a52" stroke-width="1.1"/>
<line x1="467.00" y1="247.00" x2="467.00" y2="249.10" stroke="#b52a52" stroke-width="1.1"/>
<line x1="484.00" y1="247.00" x2="484.00" y2="249.10" stroke="#b52a52" stroke-width="1.1"/>
<line x1="510.25" y1="247.00" x2="510.25" y2="249.10" stroke="#b52a52" stroke-width="1.1"/>
<text x="7.22" y="435.00" font-size="11" fill="#000" color="#000" stroke-width="0.28" font-weight="bold" textLength="7.97" lengthAdjust="spacingAndGlyphs">E</text>
<line x1="51.00" y1="441.25" x2="51.00" y2="565.25" stroke="#1a1a1a" stroke-width="1.25"/>
<line x1="48.00" y1="446.90" x2="51.00" y2="446.90" stroke="#1a1a1a" stroke-width="1.25"/>
<text x="45.03" y="449.50" font-size="7.8" fill="#2c2c2c" color="#2c2c2c" stroke-width="0.28" text-anchor="end">1.00</text>
<line x1="48.00" y1="475.02" x2="51.00" y2="475.02" stroke="#1a1a1a" stroke-width="1.25"/>
<text x="45.07" y="477.62" font-size="7.8" fill="#2c2c2c" color="#2c2c2c" stroke-width="0.28" text-anchor="end">0.75</text>
<line x1="48.00" y1="503.15" x2="51.00" y2="503.15" stroke="#1a1a1a" stroke-width="1.25"/>
<text x="45.03" y="505.75" font-size="7.8" fill="#2c2c2c" color="#2c2c2c" stroke-width="0.28" text-anchor="end">0.50</text>
<line x1="48.00" y1="531.27" x2="51.00" y2="531.27" stroke="#1a1a1a" stroke-width="1.25"/>
<text x="45.07" y="533.88" font-size="7.8" fill="#2c2c2c" color="#2c2c2c" stroke-width="0.28" text-anchor="end">0.25</text>
<line x1="48.00" y1="559.40" x2="51.00" y2="559.40" stroke="#1a1a1a" stroke-width="1.25"/>
<text x="45.03" y="562.00" font-size="7.8" fill="#2c2c2c" color="#2c2c2c" stroke-width="0.28" text-anchor="end">0.00</text>
<line x1="50.50" y1="564.75" x2="254.75" y2="564.75" stroke="#1a1a1a" stroke-width="1.25"/>
<line x1="60.60" y1="564.75" x2="60.60" y2="567.75" stroke="#1a1a1a" stroke-width="1.25"/>
<text x="60.60" y="576.25" font-size="7.8" fill="#2c2c2c" color="#2c2c2c" stroke-width="0.28" text-anchor="middle">0</text>
<line x1="106.80" y1="564.75" x2="106.80" y2="567.75" stroke="#1a1a1a" stroke-width="1.25"/>
<text x="106.80" y="576.25" font-size="7.8" fill="#2c2c2c" color="#2c2c2c" stroke-width="0.28" text-anchor="middle">6</text>
<line x1="153.00" y1="564.75" x2="153.00" y2="567.75" stroke="#1a1a1a" stroke-width="1.25"/>
<text x="153.00" y="576.25" font-size="7.8" fill="#2c2c2c" color="#2c2c2c" stroke-width="0.28" text-anchor="middle">12</text>
<line x1="199.20" y1="564.75" x2="199.20" y2="567.75" stroke="#1a1a1a" stroke-width="1.25"/>
<text x="199.20" y="576.25" font-size="7.8" fill="#2c2c2c" color="#2c2c2c" stroke-width="0.28" text-anchor="middle">18</text>
<line x1="245.40" y1="564.75" x2="245.40" y2="567.75" stroke="#1a1a1a" stroke-width="1.25"/>
<text x="245.40" y="576.25" font-size="7.8" fill="#2c2c2c" color="#2c2c2c" stroke-width="0.28" text-anchor="middle">24</text>
<text x="131.99" y="585.85" font-size="8.6" fill="#2c2c2c" color="#2c2c2c" stroke-width="0.36" textLength="42.05" lengthAdjust="spacingAndGlyphs">Time (months)</text>
<text transform="rotate(-90)" x="-540.29" y="24.80" font-size="8.0" fill="#2c2c2c" color="#2c2c2c" stroke-width="0.4" textLength="74.60" lengthAdjust="spacingAndGlyphs">Overall survival probability</text>
<line x1="51.00" y1="591.20" x2="51.00" y2="607.40" stroke="#1a1a1a" stroke-width="1.25"/>
<line x1="50.50" y1="606.90" x2="254.75" y2="606.90" stroke="#1a1a1a" stroke-width="1.25"/>
<line x1="48.00" y1="593.40" x2="51.00" y2="593.40" stroke="#1a1a1a" stroke-width="1.25"/>
<text x="44.86" y="595.70" font-size="7.6" fill="#b52a52" color="#b52a52" stroke-width="0.28" text-anchor="end">alloSCT Y</text>
<text x="60.60" y="595.70" font-size="7.8" fill="#2c2c2c" color="#2c2c2c" stroke-width="0.28" text-anchor="middle">13</text>
<text x="106.80" y="595.70" font-size="7.8" fill="#2c2c2c" color="#2c2c2c" stroke-width="0.28" text-anchor="middle">10</text>
<text x="153.00" y="595.70" font-size="7.8" fill="#2c2c2c" color="#2c2c2c" stroke-width="0.28" text-anchor="middle">5</text>
<text x="199.20" y="595.70" font-size="7.8" fill="#2c2c2c" color="#2c2c2c" stroke-width="0.28" text-anchor="middle">3</text>
<text x="245.40" y="595.70" font-size="7.8" fill="#2c2c2c" color="#2c2c2c" stroke-width="0.28" text-anchor="middle">2</text>
<line x1="48.00" y1="602.30" x2="51.00" y2="602.30" stroke="#1a1a1a" stroke-width="1.25"/>
<text x="45.34" y="604.60" font-size="7.6" fill="#365a80" color="#365a80" stroke-width="0.28" text-anchor="end">alloSCT N</text>
<text x="60.60" y="604.60" font-size="7.8" fill="#2c2c2c" color="#2c2c2c" stroke-width="0.28" text-anchor="middle">13</text>
<text x="106.80" y="604.60" font-size="7.8" fill="#2c2c2c" color="#2c2c2c" stroke-width="0.28" text-anchor="middle">4</text>
<text x="153.00" y="604.60" font-size="7.8" fill="#2c2c2c" color="#2c2c2c" stroke-width="0.28" text-anchor="middle">2</text>
<text x="199.20" y="604.60" font-size="7.8" fill="#2c2c2c" color="#2c2c2c" stroke-width="0.28" text-anchor="middle">2</text>
<text x="245.40" y="604.60" font-size="7.8" fill="#2c2c2c" color="#2c2c2c" stroke-width="0.28" text-anchor="middle">0</text>
<line x1="60.60" y1="606.90" x2="60.60" y2="609.90" stroke="#1a1a1a" stroke-width="1.25"/>
<line x1="106.80" y1="606.90" x2="106.80" y2="609.90" stroke="#1a1a1a" stroke-width="1.25"/>
<line x1="153.00" y1="606.90" x2="153.00" y2="609.90" stroke="#1a1a1a" stroke-width="1.25"/>
<line x1="199.20" y1="606.90" x2="199.20" y2="609.90" stroke="#1a1a1a" stroke-width="1.25"/>
<line x1="245.40" y1="606.90" x2="245.40" y2="609.90" stroke="#1a1a1a" stroke-width="1.25"/>
<text x="131.85" y="618.70" font-size="8.6" fill="#2c2c2c" color="#2c2c2c" stroke-width="0.36" textLength="42.53" lengthAdjust="spacingAndGlyphs">Number at risk</text>
<text x="146.62" y="448.40" font-size="7.5" fill="#2c2c2c" color="#2c2c2c" stroke-width="0.28" textLength="70.36" lengthAdjust="spacingAndGlyphs">Median OS alloSCT:</text>
<text x="146.68" y="457.80" font-size="7.5" fill="#2c2c2c" color="#2c2c2c" stroke-width="0.28" textLength="106.89" lengthAdjust="spacingAndGlyphs">18.2 months (95% CI, 14.0-NA)</text>
<text x="150.88" y="538.80" font-size="7.5" fill="#2c2c2c" color="#2c2c2c" stroke-width="0.28" textLength="81.11" lengthAdjust="spacingAndGlyphs">Median OS no alloSCT:</text>
<text x="150.92" y="548.40" font-size="7.5" fill="#2c2c2c" color="#2c2c2c" stroke-width="0.28" textLength="103.30" lengthAdjust="spacingAndGlyphs">11.0 months (95% CI, 1.3-NA)</text>
<path d="M61.00,446.90 H96.25 V455.60 H106.50 V464.00 H134.40 V476.00 H168.50 V496.50 H201.00 V517.40 H256.25" fill="none" stroke="#b52a52" stroke-width="1.4" stroke-linejoin="miter" stroke-linecap="butt"/>
<path d="M61.00,446.90 H63.30 V455.50 H65.20 V464.30 H66.30 V472.70 H69.60 V481.30 H73.70 V490.00 H78.70 V498.60 H140.00 V518.75 H231.50" fill="none" stroke="#365a80" stroke-width="1.4" stroke-linejoin="miter" stroke-linecap="butt"/>
<line x1="111.25" y1="462.50" x2="111.25" y2="464.60" stroke="#b52a52" stroke-width="1.1"/>
<line x1="122.75" y1="462.50" x2="122.75" y2="464.60" stroke="#b52a52" stroke-width="1.1"/>
<line x1="132.50" y1="462.50" x2="132.50" y2="464.60" stroke="#b52a52" stroke-width="1.1"/>
<line x1="143.10" y1="474.50" x2="143.10" y2="476.60" stroke="#b52a52" stroke-width="1.1"/>
<line x1="156.50" y1="474.50" x2="156.50" y2="476.60" stroke="#b52a52" stroke-width="1.1"/>
<line x1="254.00" y1="515.90" x2="254.00" y2="518.00" stroke="#b52a52" stroke-width="1.1"/>
<line x1="85.60" y1="497.10" x2="85.60" y2="499.20" stroke="#365a80" stroke-width="1.1"/>
<line x1="98.75" y1="497.10" x2="98.75" y2="499.20" stroke="#365a80" stroke-width="1.1"/>
<line x1="130.60" y1="497.10" x2="130.60" y2="499.20" stroke="#365a80" stroke-width="1.1"/>
<text x="266.50" y="435.00" font-size="11" fill="#000" color="#000" stroke-width="0.28" font-weight="bold" textLength="7.01" lengthAdjust="spacingAndGlyphs">F</text>
<line x1="310.60" y1="441.50" x2="310.60" y2="565.10" stroke="#1a1a1a" stroke-width="1.25"/>
<line x1="307.60" y1="446.90" x2="310.60" y2="446.90" stroke="#1a1a1a" stroke-width="1.25"/>
<text x="304.68" y="449.50" font-size="7.8" fill="#2c2c2c" color="#2c2c2c" stroke-width="0.28" text-anchor="end">1.00</text>
<line x1="307.60" y1="475.02" x2="310.60" y2="475.02" stroke="#1a1a1a" stroke-width="1.25"/>
<text x="304.72" y="477.62" font-size="7.8" fill="#2c2c2c" color="#2c2c2c" stroke-width="0.28" text-anchor="end">0.75</text>
<line x1="307.60" y1="503.15" x2="310.60" y2="503.15" stroke="#1a1a1a" stroke-width="1.25"/>
<text x="304.68" y="505.75" font-size="7.8" fill="#2c2c2c" color="#2c2c2c" stroke-width="0.28" text-anchor="end">0.50</text>
<line x1="307.60" y1="531.27" x2="310.60" y2="531.27" stroke="#1a1a1a" stroke-width="1.25"/>
<text x="304.72" y="533.88" font-size="7.8" fill="#2c2c2c" color="#2c2c2c" stroke-width="0.28" text-anchor="end">0.25</text>
<line x1="307.60" y1="559.40" x2="310.60" y2="559.40" stroke="#1a1a1a" stroke-width="1.25"/>
<text x="304.68" y="562.00" font-size="7.8" fill="#2c2c2c" color="#2c2c2c" stroke-width="0.28" text-anchor="end">0.00</text>
<line x1="310.10" y1="564.60" x2="513.75" y2="564.60" stroke="#1a1a1a" stroke-width="1.25"/>
<line x1="319.60" y1="564.60" x2="319.60" y2="567.60" stroke="#1a1a1a" stroke-width="1.25"/>
<text x="319.60" y="576.10" font-size="7.8" fill="#2c2c2c" color="#2c2c2c" stroke-width="0.28" text-anchor="middle">0</text>
<line x1="365.80" y1="564.60" x2="365.80" y2="567.60" stroke="#1a1a1a" stroke-width="1.25"/>
<text x="365.80" y="576.10" font-size="7.8" fill="#2c2c2c" color="#2c2c2c" stroke-width="0.28" text-anchor="middle">3</text>
<line x1="412.00" y1="564.60" x2="412.00" y2="567.60" stroke="#1a1a1a" stroke-width="1.25"/>
<text x="412.00" y="576.10" font-size="7.8" fill="#2c2c2c" color="#2c2c2c" stroke-width="0.28" text-anchor="middle">6</text>
<line x1="458.20" y1="564.60" x2="458.20" y2="567.60" stroke="#1a1a1a" stroke-width="1.25"/>
<text x="458.20" y="576.10" font-size="7.8" fill="#2c2c2c" color="#2c2c2c" stroke-width="0.28" text-anchor="middle">9</text>
<line x1="504.40" y1="564.60" x2="504.40" y2="567.60" stroke="#1a1a1a" stroke-width="1.25"/>
<text x="504.40" y="576.10" font-size="7.8" fill="#2c2c2c" color="#2c2c2c" stroke-width="0.28" text-anchor="middle">12</text>
<text x="391.29" y="585.70" font-size="8.6" fill="#2c2c2c" color="#2c2c2c" stroke-width="0.36" textLength="42.05" lengthAdjust="spacingAndGlyphs">Time (months)</text>
<text transform="rotate(-90)" x="-554.91" y="284.40" font-size="8.0" fill="#2c2c2c" color="#2c2c2c" stroke-width="0.4" textLength="103.41" lengthAdjust="spacingAndGlyphs">Progression–free survival probability</text>
<line x1="310.60" y1="591.20" x2="310.60" y2="607.40" stroke="#1a1a1a" stroke-width="1.25"/>
<line x1="310.10" y1="606.90" x2="513.75" y2="606.90" stroke="#1a1a1a" stroke-width="1.25"/>
<line x1="307.60" y1="593.40" x2="310.60" y2="593.40" stroke="#1a1a1a" stroke-width="1.25"/>
<text x="304.36" y="595.70" font-size="7.6" fill="#b52a52" color="#b52a52" stroke-width="0.28" text-anchor="end">alloSCT Y</text>
<text x="319.60" y="595.70" font-size="7.8" fill="#2c2c2c" color="#2c2c2c" stroke-width="0.28" text-anchor="middle">13</text>
<text x="365.80" y="595.70" font-size="7.8" fill="#2c2c2c" color="#2c2c2c" stroke-width="0.28" text-anchor="middle">12</text>
<text x="412.00" y="595.70" font-size="7.8" fill="#2c2c2c" color="#2c2c2c" stroke-width="0.28" text-anchor="middle">10</text>
<text x="458.20" y="595.70" font-size="7.8" fill="#2c2c2c" color="#2c2c2c" stroke-width="0.28" text-anchor="middle">7</text>
<text x="504.40" y="595.70" font-size="7.8" fill="#2c2c2c" color="#2c2c2c" stroke-width="0.28" text-anchor="middle">4</text>
<line x1="307.60" y1="602.30" x2="310.60" y2="602.30" stroke="#1a1a1a" stroke-width="1.25"/>
<text x="304.84" y="604.60" font-size="7.6" fill="#365a80" color="#365a80" stroke-width="0.28" text-anchor="end">alloSCT N</text>
<text x="319.60" y="604.60" font-size="7.8" fill="#2c2c2c" color="#2c2c2c" stroke-width="0.28" text-anchor="middle">13</text>
<text x="365.80" y="604.60" font-size="7.8" fill="#2c2c2c" color="#2c2c2c" stroke-width="0.28" text-anchor="middle">6</text>
<text x="412.00" y="604.60" font-size="7.8" fill="#2c2c2c" color="#2c2c2c" stroke-width="0.28" text-anchor="middle">4</text>
<text x="458.20" y="604.60" font-size="7.8" fill="#2c2c2c" color="#2c2c2c" stroke-width="0.28" text-anchor="middle">1</text>
<text x="504.40" y="604.60" font-size="7.8" fill="#2c2c2c" color="#2c2c2c" stroke-width="0.28" text-anchor="middle">1</text>
<line x1="319.60" y1="606.90" x2="319.60" y2="609.90" stroke="#1a1a1a" stroke-width="1.25"/>
<line x1="365.80" y1="606.90" x2="365.80" y2="609.90" stroke="#1a1a1a" stroke-width="1.25"/>
<line x1="412.00" y1="606.90" x2="412.00" y2="609.90" stroke="#1a1a1a" stroke-width="1.25"/>
<line x1="458.20" y1="606.90" x2="458.20" y2="609.90" stroke="#1a1a1a" stroke-width="1.25"/>
<line x1="504.40" y1="606.90" x2="504.40" y2="609.90" stroke="#1a1a1a" stroke-width="1.25"/>
<text x="391.15" y="618.70" font-size="8.6" fill="#2c2c2c" color="#2c2c2c" stroke-width="0.36" textLength="42.53" lengthAdjust="spacingAndGlyphs">Number at risk</text>
<text x="409.98" y="448.20" font-size="7.5" fill="#2c2c2c" color="#2c2c2c" stroke-width="0.28" textLength="73.24" lengthAdjust="spacingAndGlyphs">Median PFS alloSCT:</text>
<text x="410.02" y="457.80" font-size="7.5" fill="#2c2c2c" color="#2c2c2c" stroke-width="0.28" textLength="103.58" lengthAdjust="spacingAndGlyphs">13.3 months (95% CI, 8.2-NA)</text>
<text x="330.88" y="539.05" font-size="7.5" fill="#2c2c2c" color="#2c2c2c" stroke-width="0.28" textLength="84.25" lengthAdjust="spacingAndGlyphs">Median PFS no alloSCT:</text>
<text x="331.19" y="548.40" font-size="7.5" fill="#2c2c2c" color="#2c2c2c" stroke-width="0.28" textLength="98.70" lengthAdjust="spacingAndGlyphs">3.0 months (95% CI, 1.2-NA)</text>
<path d="M320.00,446.90 H391.50 V455.60 H399.00 V464.20 H436.25 V473.10 H445.60 V484.30 H515.70" fill="none" stroke="#b52a52" stroke-width="1.4" stroke-linejoin="miter" stroke-linecap="butt"/>
<path d="M320.00,446.90 H324.75 V455.25 H328.10 V464.00 H331.00 V472.75 H336.25 V481.25 H345.25 V490.00 H351.50 V498.30 H363.10 V507.30 H418.30 V520.10 H442.25 V533.20 H444.00 V546.00 H501.80" fill="none" stroke="#365a80" stroke-width="1.4" stroke-linejoin="miter" stroke-linecap="butt"/>
<line x1="420.60" y1="462.70" x2="420.60" y2="464.80" stroke="#b52a52" stroke-width="1.1"/>
<line x1="444.00" y1="471.60" x2="444.00" y2="473.70" stroke="#b52a52" stroke-width="1.1"/>
<line x1="463.50" y1="482.80" x2="463.50" y2="484.90" stroke="#b52a52" stroke-width="1.1"/>
<line x1="467.50" y1="482.80" x2="467.50" y2="484.90" stroke="#b52a52" stroke-width="1.1"/>
<line x1="484.40" y1="482.80" x2="484.40" y2="484.90" stroke="#b52a52" stroke-width="1.1"/>
<line x1="511.30" y1="482.80" x2="511.30" y2="484.90" stroke="#b52a52" stroke-width="1.1"/>
<line x1="369.75" y1="505.80" x2="369.75" y2="507.90" stroke="#365a80" stroke-width="1.1"/>
<line x1="398.10" y1="505.80" x2="398.10" y2="507.90" stroke="#365a80" stroke-width="1.1"/>
<line x1="498.50" y1="544.50" x2="498.50" y2="546.60" stroke="#365a80" stroke-width="1.1"/>
</svg>
<div class="frame"></div>
</body></html>
